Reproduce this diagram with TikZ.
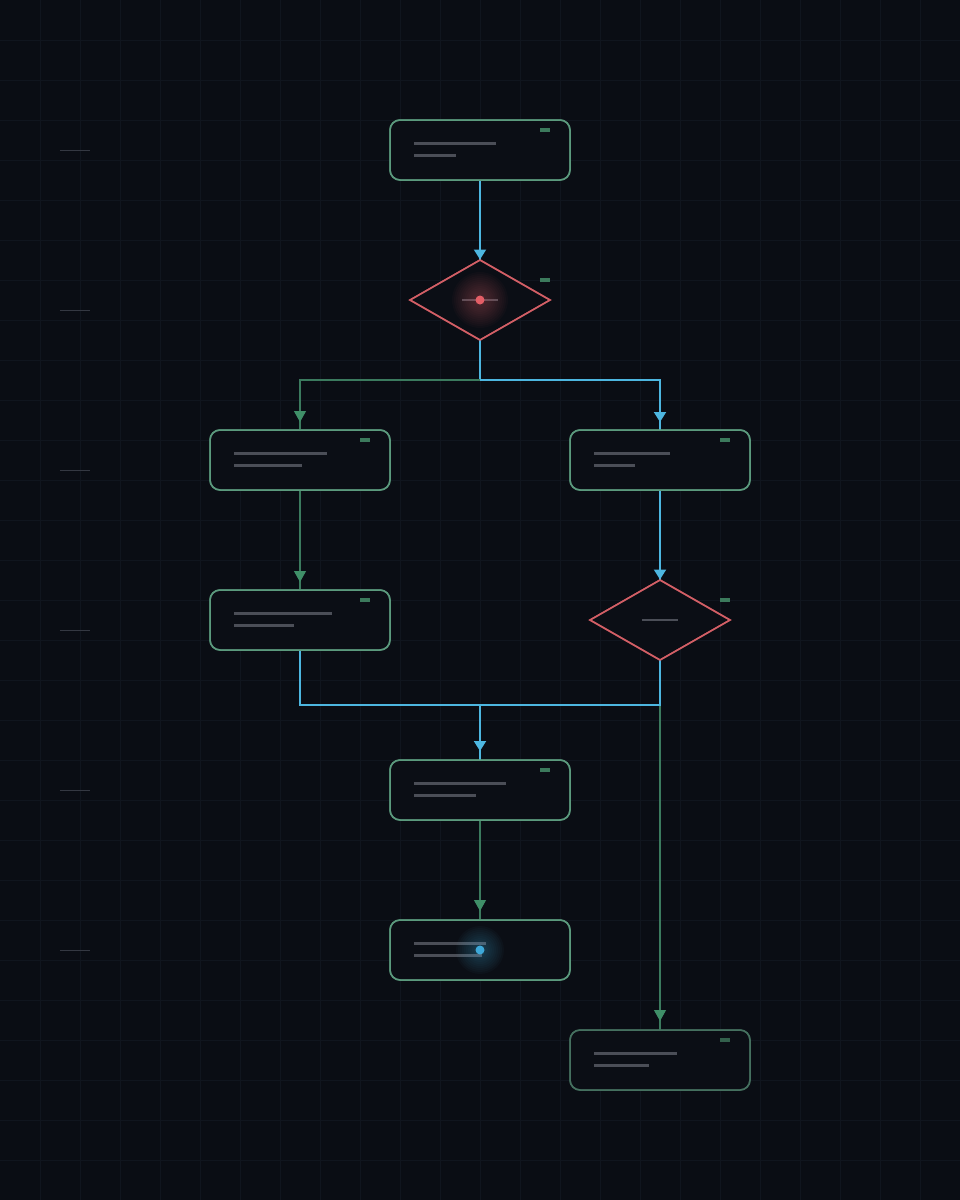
\documentclass[tikz,border=0pt]{standalone}
\usetikzlibrary{shapes.geometric,arrows.meta}
\definecolor{bg}{HTML}{0A0D14}
\definecolor{gridc}{HTML}{10151E}
\definecolor{nodefill}{HTML}{0B0E15}
\definecolor{nodec}{HTML}{5B9A7D}
\definecolor{nodedim}{HTML}{45705F}
\definecolor{redc}{HTML}{D35F66}
\definecolor{bluec}{HTML}{4DB6E0}
\definecolor{greenc}{HTML}{3B7A5E}
\definecolor{greentip}{HTML}{3F8F68}
\definecolor{tagc}{HTML}{3C7A5C}
\definecolor{tagdim}{HTML}{33604C}
\definecolor{txtc}{HTML}{4B4E57}
\definecolor{tickc}{HTML}{343842}
\definecolor{dotr}{HTML}{E35E66}
\definecolor{dotb}{HTML}{3DA8D8}
\tikzset{
  box/.style={rectangle, rounded corners=10pt, minimum width=180pt, minimum height=60pt,
    inner sep=0pt, outer sep=0pt, draw=nodec, line width=1.5pt, fill=nodefill},
  dia/.style={diamond, minimum width=140pt, minimum height=80pt, inner sep=0pt,
    outer sep=0pt, draw=redc, line width=1.5pt, fill=nodefill},
  bline/.style={draw=bluec, line width=2pt},
  gline/.style={draw=greenc, line width=1.2pt},
  btip/.style={draw=bluec, line width=2pt, -{Triangle[width=12pt,length=10pt]}},
  gtip/.style={draw=greenc, line width=1.2pt, -{Triangle[width=12pt,length=11pt,fill=greentip,color=greentip]}},
  txt/.style={draw=txtc, line width=2.5pt},
  tagbox/.style={fill=tagc},
  tick/.style={draw=tickc, line width=1pt}
}
\newcommand\boxdeco[5]{% node name, left x, top y, len1, len2
  \draw[txt] (#2+24,#3+23.5) -- (#2+24+#4,#3+23.5);
  \draw[txt] (#2+24,#3+35.5) -- (#2+24+#5,#3+35.5);
}
\begin{document}
\begin{tikzpicture}[x=1pt,y=-1pt]
\fill[bg] (0,0) rectangle (960,1200);
\useasboundingbox (0,0) rectangle (960,1200);
% grid
\foreach \i in {40,80,...,920} \draw[gridc, line width=1pt] (\i,0) -- (\i,1200);
\foreach \i in {40,80,...,1160} \draw[gridc, line width=1pt] (0,\i) -- (960,\i);
% left ticks
\foreach \yy in {150,310,470,630,790,950} \draw[tick] (60,\yy) -- (90,\yy);

% nodes
\node[box] (n1) at (480,150) {};
\node[dia] (d1) at (480,300) {};
\node[box] (n2l) at (300,460) {};
\node[box] (n2r) at (660,460) {};
\node[box] (n3l) at (300,620) {};
\node[dia] (d2) at (660,620) {};
\node[box] (n4) at (480,790) {};
\node[box] (n5) at (480,950) {};
\node[box, draw=nodedim] (n5r) at (660,1060) {};

\coordinate (j1) at (480,380);
\coordinate (j2) at (480,705);

% connectors
\draw[bline] (n1.south) -- (d1.north);
\draw[btip, shorten >=0.5pt] (n1.south) -- (d1.north);
\draw[bline] (d1.south) -- (j1);
\draw[gline] (j1) -| (n2l.north);
\draw[gtip, shorten >=8pt] (j1) -| (n2l.north);
\draw[bline] (j1) -| (n2r.north);
\draw[btip, shorten >=8pt] (j1) -| (n2r.north);
\draw[gline] (n2l.south) -- (n3l.north);
\draw[gtip, shorten >=8pt] (n2l.south) -- (n3l.north);
\draw[bline] (n2r.south) -- (d2.north);
\draw[btip, shorten >=0.5pt] (n2r.south) -- (d2.north);
\draw[gline] (d2.south) -- (n5r.north);
\draw[gtip, shorten >=9pt] (d2.south) -- (n5r.north);
\draw[bline] (n3l.south) |- (j2) -| (d2.south);
\draw[bline] (j2) -- (n4.north);
\draw[btip, shorten >=9pt] (j2) -- (n4.north);
\draw[gline] (n4.south) -- (n5.north);
\draw[gtip, shorten >=9pt] (n4.south) -- (n5.north);

% redraw node borders above connectors
\foreach \n in {n1,n2l,n2r,n3l,n4,n5} \draw[draw=nodec, line width=1.5pt, rounded corners=10pt] (\n.south west) rectangle (\n.north east);
\draw[draw=nodedim, line width=1.5pt, rounded corners=10pt] (n5r.south west) rectangle (n5r.north east);
\draw[redc, line width=1.5pt] (d1.north) -- (d1.east) -- (d1.south) -- (d1.west) -- cycle;
\draw[redc, line width=1.5pt] (d2.north) -- (d2.east) -- (d2.south) -- (d2.west) -- cycle;

% inner text lines
\boxdeco{n1}{390}{120}{82}{42}
\boxdeco{n2l}{210}{430}{93}{68}
\boxdeco{n2r}{570}{430}{76}{41}
\boxdeco{n3l}{210}{590}{98}{60}
\boxdeco{n4}{390}{760}{92}{62}
\boxdeco{n5}{390}{920}{72}{68}
\boxdeco{n5r}{570}{1030}{83}{55}
\draw[txt] (462,300) -- (498,300);
\draw[txt] (642,620) -- (678,620);

% glows (stacked translucent discs)
\foreach \r in {28,26,...,2} \fill[redc, opacity=0.03] (d1.center) circle (\r pt);
\foreach \r in {24,22,...,2} \fill[bluec, opacity=0.03] (n5.center) circle (\r pt);

% tags
\fill[tagbox] (540,128) rectangle (550,132);
\fill[tagbox] (540,278) rectangle (550,282);
\fill[tagbox] (360,438) rectangle (370,442);
\fill[tagbox] (720,438) rectangle (730,442);
\fill[tagbox] (360,598) rectangle (370,602);
\fill[tagbox] (720,598) rectangle (730,602);
\fill[tagbox] (540,768) rectangle (550,772);
\fill[tagdim] (720,1038) rectangle (730,1042);

% dots
\fill[dotr] (d1.center) circle (4.5pt);
\fill[dotb] (n5.center) circle (4.5pt);
\end{tikzpicture}
\end{document}
